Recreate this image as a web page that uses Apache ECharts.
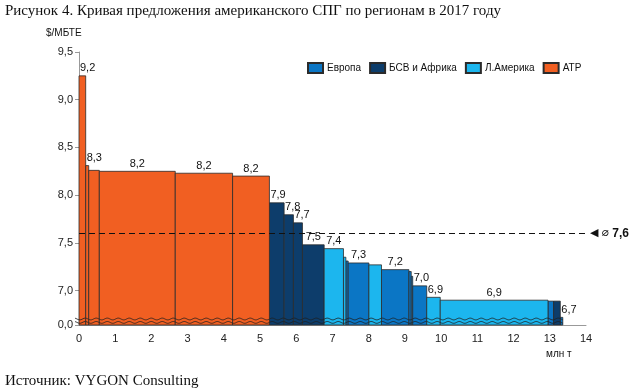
<!DOCTYPE html>
<html><head><meta charset="utf-8">
<script src="https://cdn.jsdelivr.net/npm/echarts@6/dist/echarts.min.js"></script>
<style>html,body{margin:0;padding:0;background:#fff}#c{width:640px;height:392px}</style>
</head><body><div id="c"></div>
<script>
// ---- data ----
const regionNames = ['Европа', 'БСВ и Африка', 'Л.Америка', 'АТР'];
const regionColors = ['#0B76C5', '#0D3D6B', '#1CB6EE', '#F15F22'];
const volumes = [0.185, 0.083, 0.293, 2.097, 1.583, 1.017, 0.406, 0.257, 0.249, 0.600, 0.533, 0.066, 0.064, 0.572, 0.348, 0.757, 0.064, 0.041, 0.387, 0.373, 2.975, 0.155, 0.185, 0.069];
const prices  = [9.25, 8.31, 8.26, 8.25, 8.23, 8.20, 7.92, 7.795, 7.71, 7.48, 7.44, 7.35, 7.31, 7.29, 7.27, 7.22, 7.20, 7.15, 7.05, 6.93, 6.90, 6.89, 6.89, 6.72];
const regionOf = [3, 3, 3, 3, 3, 3, 1, 1, 1, 1, 2, 2, 0, 0, 2, 0, 0, 0, 0, 2, 2, 0, 1, 0];
const barLabels = ['9,2', '8,3', '', '8,2', '8,2', '8,2', '7,9', '7,8', '7,7', '7,5', '7,4', '', '', '7,3', '', '7,2', '', '', '7,0', '6,9', '6,9', '', '', '6,7'];
const averagePrice = 7.6;
const averageLabel = '7,6';
const yBreakValue = 6.64;           // axis bottom, shown as "0,0"
const yTickValues = [7.0, 7.5, 8.0, 8.5, 9.0, 9.5];
const xMax = 14;
const title = 'Рисунок 4. Кривая предложения американского СПГ по регионам в 2017 году';
const source = 'Источник: VYGON Consulting';
const yUnit = '$/МБТЕ';
const xUnit = 'млн т';

// ---- build series data ----
const perRegion = regionNames.map(() => []);
let cum = 0;
volumes.forEach((w, i) => {
  const x0 = cum, x1 = cum + w;
  cum = x1;
  perRegion[regionOf[i]].push([x0, x1, prices[i], i]);
});

const SANS = 'Liberation Sans, Arial, sans-serif';

function makeRender(color) {
  return function (params, api) {
    const x0 = api.value(0), x1 = api.value(1), v = api.value(2), idx = api.value(3);
    const pTop = api.coord([x0, v]);
    const pEnd = api.coord([x1, yBreakValue]);
    const left = pTop[0], right = pEnd[0], top = pTop[1], bottom = pEnd[1];
    const children = [{
      type: 'rect',
      shape: { x: left, y: top, width: right - left, height: bottom - top },
      style: { fill: color, stroke: '#2b2b2b', lineWidth: 0.8 }
    }];
    // break wavy lines
    [6, 2.6].forEach(off => {
      const pts = [];
      const start = idx === 0 ? left - 4 : left;
      for (let x = start; x <= right + 0.01; x += 1) {
        pts.push([x, bottom - off + Math.sin(x * 2 * Math.PI / 11) * 0.9]);
      }
      pts.push([right, bottom - off + Math.sin(right * 2 * Math.PI / 11) * 0.9]);
      children.push({ type: 'polyline', shape: { points: pts }, style: { stroke: '#1e1e1e', fill: null, lineWidth: 0.8 } });
    });
    const txt = barLabels[idx];
    if (txt) {
      const w = right - left;
      const wide = w >= 18;
      children.push({
        type: 'text',
        style: {
          text: txt, x: wide ? (left + right) / 2 : left + 1, y: top - 2,
          align: wide ? 'center' : 'left', verticalAlign: 'bottom',
          fill: '#111', font: '11px ' + SANS
        }
      });
    }
    return { type: 'group', children };
  };
}

const series = regionNames.map((name, r) => ({
  name, type: 'custom', renderItem: makeRender(regionColors[r]),
  itemStyle: { color: regionColors[r], borderColor: '#2b2b2b', borderWidth: 0.8 },
  encode: { x: [0, 1], y: 2 }, clip: false, z: 2,
  data: perRegion[r]
}));
series[3].markLine = {
  silent: true, symbol: 'none', z: 5,
  lineStyle: { color: '#111', type: [6, 4], width: 1 },
  data: [{ yAxis: averagePrice }],
  label: {
    show: true, position: 'end', distance: 4,
    formatter: '{t|◀} {s|⌀} {v|' + averageLabel + '}',
    rich: {
      t: { fontFamily: 'DejaVu Sans', fontSize: 11, color: '#111' },
      s: { fontFamily: 'DejaVu Sans', fontSize: 12, color: '#111' },
      v: { fontFamily: SANS, fontSize: 12, fontWeight: 'bold', color: '#111' }
    }
  }
};

const chart = echarts.init(document.getElementById('c'), null, { renderer: 'canvas' });
chart.setOption({
  animation: false,
  backgroundColor: '#fff',
  grid: { left: 79, right: 54, top: 52, bottom: 67 },
  legend: {
    data: regionNames, left: 302, top: 57, itemWidth: 15, itemHeight: 10, itemGap: 8,
    icon: 'rect', textStyle: { fontFamily: SANS, fontSize: 10, color: '#111', padding: [0, 0, 0, -1] }
  },
  xAxis: {
    type: 'value', min: 0, max: xMax, interval: 1,
    axisLine: { show: true, lineStyle: { color: '#999', width: 1 } },
    axisTick: { show: false },
    splitLine: { show: false },
    axisLabel: { color: '#222', fontFamily: SANS, fontSize: 11, margin: 8 }
  },
  yAxis: {
    type: 'value', min: yBreakValue, max: 9.5,
    axisLine: { show: true, lineStyle: { color: '#999', width: 1 } },
    axisTick: { show: true, length: 4, lineStyle: { color: '#999' }, customValues: [yBreakValue].concat(yTickValues) },
    splitLine: { show: false },
    axisLabel: {
      color: '#222', fontFamily: SANS, fontSize: 11, margin: 6,
      customValues: [yBreakValue].concat(yTickValues),
      formatter: v => (v < 6.9 ? '0,0' : v.toFixed(1).replace('.', ','))
    }
  },
  graphic: [
    { type: 'text', left: 5, top: 4, style: { text: title, font: '15px Liberation Serif, Times New Roman, serif', fill: '#111' } },
    { type: 'text', left: 46, top: 28, style: { text: yUnit, font: '10px ' + SANS, fill: '#111' } },
    { type: 'text', left: 546, top: 349, style: { text: xUnit, font: '10px ' + SANS, fill: '#111' } },
    { type: 'text', left: 5, top: 374, style: { text: source, font: '15px Liberation Serif, Times New Roman, serif', fill: '#111' } }
  ],
  series
});
</script></body></html>
